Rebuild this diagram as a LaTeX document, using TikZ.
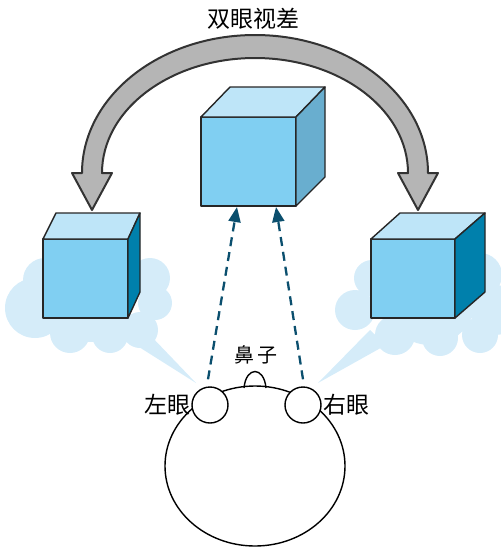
\documentclass[tikz,border=0pt]{standalone}
\usepackage{fontspec}
\newfontfamily\cjk{Noto Sans CJK SC}
\usetikzlibrary{arrows.meta}

\definecolor{faceblue}{HTML}{80CFF2}
\definecolor{topblue}{HTML}{BEE5F8}
\definecolor{sidemid}{HTML}{69AECF}
\definecolor{sidedark}{HTML}{0080AC}
\definecolor{cloudblue}{HTML}{D5ECF9}
\definecolor{sightline}{HTML}{0B4F6E}
\definecolor{arcgray}{HTML}{B5B5B5}

\tikzset{
  cubeedge/.style={draw=black!85, line width=1.4pt, line join=round},
  sight/.style={sightline, line width=2.3pt, dash pattern=on 9pt off 6pt,
    -{Triangle[length=15pt,width=12pt]}},
  eye/.style={circle, draw, line width=1.4pt, fill=white, minimum size=36pt, inner sep=0pt},
  label/.style={font=\cjk\fontsize{23}{26}\selectfont, inner sep=0pt}
}

\begin{document}
\begin{tikzpicture}[x=1pt,y=-1pt]
  \useasboundingbox (0,0) rectangle (501,550);

  % clouds behind the side cubes
  \fill[cloudblue] (35,308) circle (30) (45,280) circle (22) (150,278) circle (20)
    (155,303) circle (17) (70,333) circle (20) (110,335) circle (18)
    (140,330) circle (18) (90,300) circle (42);
  \fill[cloudblue] (120,335) -- (150,335) -- (196,383) -- cycle;
  \fill[cloudblue] (355,310) circle (20) (372,278) circle (18) (480,275) circle (22)
    (495,310) circle (25) (395,335) circle (20) (440,338) circle (18)
    (480,335) circle (18) (430,300) circle (45);
  \fill[cloudblue] (370,330) -- (386,345) -- (318,383) -- cycle;

  % the bent grey arrow (y runs downwards, so the arc turns through 270)
  \draw[fill=arcgray, draw=black!80, line width=2pt, line join=round]
    (82,173) arc [start angle=180, end angle=360, x radius=173, y radius=138]
    -- (438,173) -- (418,210) -- (398,173) -- (408,173)
    arc [start angle=360, end angle=180, x radius=153, y radius=115]
    -- (112,173) -- (92,210) -- (72,173) -- cycle;
  \node[label] (parallax) at (253,19) {双眼视差};

  % middle cube
  \draw[cubeedge, fill=faceblue] (201,117) rectangle (296,206);
  \draw[cubeedge, fill=topblue] (201,117) -- (230,87) -- (325,87) -- (296,117) -- cycle;
  \draw[cubeedge, fill=sidemid] (296,117) -- (325,87) -- (325,177) -- (296,206) -- cycle;
  \coordinate (midl) at (237,207);
  \coordinate (midr) at (276,207);

  % left cube
  \draw[cubeedge, fill=faceblue] (43,239) rectangle (128,318);
  \draw[cubeedge, fill=topblue] (43,239) -- (56,213) -- (140,213) -- (128,239) -- cycle;
  \draw[cubeedge, fill=sidedark] (128,239) -- (140,213) -- (140,292) -- (128,318) -- cycle;

  % right cube
  \draw[cubeedge, fill=faceblue] (371,239) rectangle (455,318);
  \draw[cubeedge, fill=topblue] (371,239) -- (400,213) -- (485,213) -- (455,239) -- cycle;
  \draw[cubeedge, fill=sidedark] (455,239) -- (485,213) -- (485,292) -- (455,318) -- cycle;

  % head, nose and eyes
  \draw[line width=1.4pt, fill=white] (244,388) .. controls (246,366) and (264,366) .. (266,388);
  \draw[line width=1.4pt] (255,466) ellipse [x radius=90, y radius=80];
  \node[eye] (leye) at (210,405) {};
  \node[eye] (reye) at (303,405) {};
  \node[label] (nose) at (256,355) {\fontsize{20}{24}\selectfont 鼻\,子};
  \node[label, anchor=east] (lname) at (191,405) {左眼};
  \node[label, anchor=west] (rname) at (323,405) {右眼};

  % lines of sight
  \draw[sight] (leye.north) ++(-2,-7) -- (midl);
  \draw[sight] (reye.north) ++(0,-7) -- (midr);
\end{tikzpicture}
\end{document}
